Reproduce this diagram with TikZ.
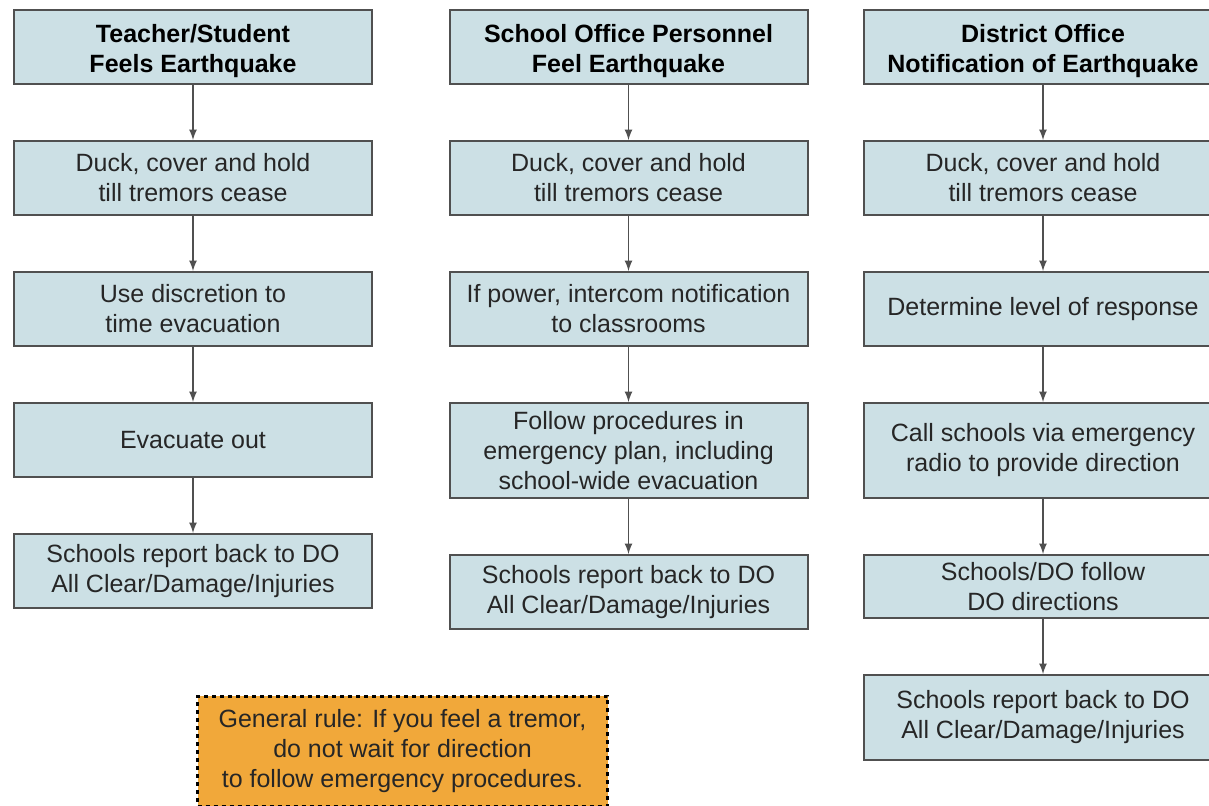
\documentclass[tikz,border=0pt]{standalone}
\usepackage{fontspec}
\setmainfont{Liberation Sans}
\usetikzlibrary{arrows,positioning}
\definecolor{boxblue}{HTML}{CCE0E5}
\definecolor{boxedge}{HTML}{505050}
\definecolor{ruleorange}{HTML}{F1A83A}

\begin{document}
\begin{tikzpicture}[
    x=0.5pt, y=-0.5pt,
    node distance=27.5pt,
    every node/.style={
        rectangle,
        align=center,
        inner sep=0pt,
        text=black!85,
        font=\fontsize{12.5}{15}\selectfont
    },
    stepbox/.style={
        draw=boxedge,
        line width=1pt,
        fill=boxblue,
        minimum width=179pt,
        minimum height=37pt
    },
    titlebox/.style={stepbox, text=black, font=\fontsize{12.5}{15}\selectfont\bfseries},
    rulebox/.style={
        fill=ruleorange,
        draw=black,
        line width=1.5pt,
        dash pattern=on 2pt off 2pt,
        minimum width=205pt,
        minimum height=55pt
    },
    flow/.style={draw=boxedge, line width=0.8pt, -latex}
]

\clip (0,0) rectangle (1209,805);

% teacher / student column
\node[titlebox] (teach) at (193,47) {\rule{0pt}{13pt}Teacher/Student\\Feels Earthquake};
\node[stepbox, below=of teach] (duckA) {Duck, cover and hold\\till tremors cease};
\node[stepbox, below=of duckA] (discr) {Use discretion to\\time evacuation};
\node[stepbox, below=of discr] (evac) {Evacuate out};
\node[stepbox, below=of evac] (reportA) {Schools report back to DO\\All Clear/Damage/Injuries};

% school office column
\node[titlebox] (office) at (628.5,47) {\rule{0pt}{13pt}School Office Personnel\\Feel Earthquake};
\node[stepbox, below=of office] (duckB) {Duck, cover and hold\\till tremors cease};
\node[stepbox, below=of duckB] (intercom) {If power, intercom notification\\to classrooms};
\node[stepbox, below=of intercom, minimum height=47.5pt] (plan) {Follow procedures in\\emergency plan, including\\school-wide evacuation};
\node[stepbox, below=of plan] (reportB) {Schools report back to DO\\All Clear/Damage/Injuries};

% district office column
\node[titlebox] (district) at (1043,47) {\rule{0pt}{13pt}District Office\\Notification of Earthquake};
\node[stepbox, below=of district] (duckC) {Duck, cover and hold\\till tremors cease};
\node[stepbox, below=of duckC] (level) {Determine level of response};
\node[stepbox, below=of level, minimum height=47.5pt] (radio) {Call schools via emergency\\radio to provide direction};
\node[stepbox, below=of radio, minimum height=31.5pt] (follow) {Schools/DO follow\\DO directions};
\node[stepbox, below=of follow, minimum height=42.5pt] (reportC) {Schools report back to DO\\All Clear/Damage/Injuries};

% general rule
\draw[white, line width=1.5pt] (196,695) rectangle (609,807);
\node[rulebox] (rule) at (402.5,751) {General rule: If you feel a tremor,\\do not wait for direction\\to follow emergency procedures.};

\draw[flow] (teach) -- (duckA);
\draw[flow] (duckA) -- (discr);
\draw[flow] (discr) -- (evac);
\draw[flow] (evac) -- (reportA);

\draw[flow] (office) -- (duckB);
\draw[flow] (duckB) -- (intercom);
\draw[flow] (intercom) -- (plan);
\draw[flow] (plan) -- (reportB);

\draw[flow] (district) -- (duckC);
\draw[flow] (duckC) -- (level);
\draw[flow] (level) -- (radio);
\draw[flow] (radio) -- (follow);
\draw[flow] (follow) -- (reportC);

\end{tikzpicture}
\end{document}
